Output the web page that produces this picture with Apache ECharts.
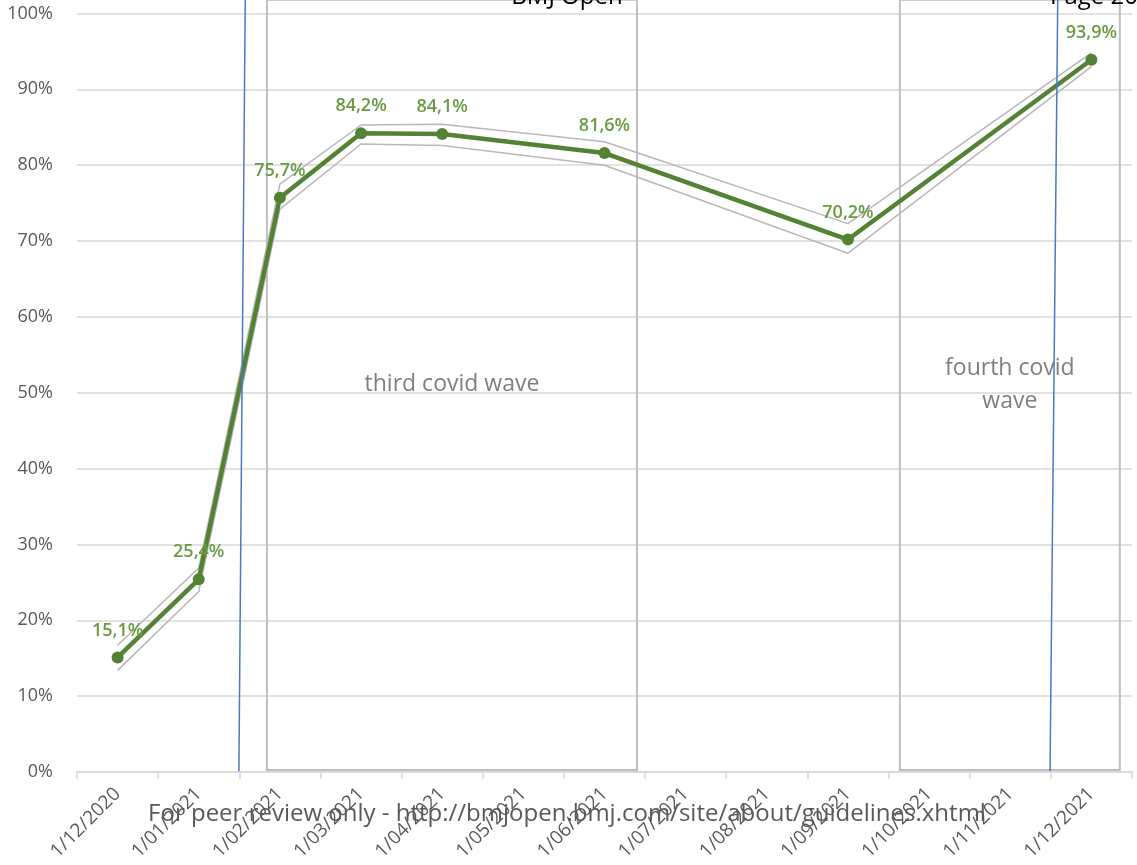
<!DOCTYPE html>
<html>
<head>
<meta charset="utf-8">
<script src="https://cdn.jsdelivr.net/npm/echarts@6/dist/echarts.min.js"></script>
<style>
  html, body { margin: 0; padding: 0; background: #fff; }
  #chart { width: 1137px; height: 865px; }
</style>
</head>
<body>
<div id="chart"></div>
<script>
// categories (first of each month)
const months = ['1/12/2020', '1/01/2021', '1/02/2021', '1/03/2021', '1/04/2021', '1/05/2021', '1/06/2021',
  '1/07/2021', '1/08/2021', '1/09/2021', '1/10/2021', '1/11/2021', '1/12/2021']

// coverage (%) and its upper / lower bounds, null where no measurement
const coverage = [15.1, 25.4, 75.7, 84.2, 84.1, null, 81.6, null, null, 70.2, null, null, 93.9]
const upperBound = [16.7, 26.9, 77.5, 85.3, 85.4, null, 83.1, null, null, 72.3, null, null, 94.8]
const lowerBound = [13.4, 23.8, 74.2, 82.8, 82.6, null, 80.0, null, null, 68.4, null, null, 93.0]

// wave boxes, in month-index units
const waves = [
  { name: 'third covid wave', from: 1.84, to: 6.40 },
  { name: 'fourth covid\nwave', from: 9.64, to: 12.35 },
]
// blue markers (top x, bottom x), month-index units
const blueMarks = [[1.573, 1.495], [11.585, 11.49]]

const FONT = '"Open Sans", "Noto Sans", sans-serif'
const fmtPct = (v) => v.toFixed(1).replace('.', ',') + '%'

const chart = echarts.init(document.getElementById('chart'))

const option = {
  animation: false,
  backgroundColor: '#fff',
  textStyle: { fontFamily: FONT },
  grid: { left: 77, right: 5, top: 13.5, bottom: 93, containLabel: false },
  xAxis: [
    {
      type: 'category',
      data: months,
      boundaryGap: true,
      axisLine: { lineStyle: { color: '#d9d9d9', width: 1.5 } },
      axisTick: { show: true, length: 7, lineStyle: { color: '#d9d9d9', width: 1.5 } },
      axisLabel: { rotate: 45, color: '#595959', fontSize: 19, margin: 19, fontFamily: FONT },
      splitLine: { show: false },
    },
    {
      type: 'value',
      show: false,
      min: -0.5,
      max: 12.5,
      splitLine: { show: false },
    },
  ],
  yAxis: {
    type: 'value',
    min: 0,
    max: 100,
    interval: 10,
    axisLine: { show: false },
    axisTick: { show: false },
    axisLabel: { formatter: '{value}%', color: '#595959', fontSize: 18, margin: 24, fontFamily: FONT },
    splitLine: { lineStyle: { color: '#d9d9d9', width: 1.5 } },
  },
  series: [
    {
      name: 'upper',
      type: 'line',
      data: upperBound,
      connectNulls: true,
      showSymbol: false,
      symbol: 'none',
      lineStyle: { color: '#b8b8b8', width: 1.5 },
      z: 2,
    },
    {
      name: 'lower',
      type: 'line',
      data: lowerBound,
      connectNulls: true,
      showSymbol: false,
      symbol: 'none',
      lineStyle: { color: '#b8b8b8', width: 1.5 },
      z: 2,
    },
    {
      name: 'coverage',
      type: 'line',
      data: coverage,
      connectNulls: true,
      symbol: 'circle',
      symbolSize: 12,
      lineStyle: { color: '#548235', width: 4.5 },
      itemStyle: { color: '#548235' },
      label: {
        show: true,
        position: 'top',
        distance: 12,
        color: '#6b9a45',
        fontSize: 18,
        fontWeight: 600,
        fontFamily: FONT,
        formatter: (p) => fmtPct(p.value),
      },
      z: 3,
    },
  ],
}

chart.setOption(option)

// annotation shapes placed through the axes (month index on hidden axis, % on y)
const px = (x, y) => [
  chart.convertToPixel({ xAxisIndex: 1 }, x),
  chart.convertToPixel({ yAxisIndex: 0 }, y),
]

const graphics = []
waves.forEach((w) => {
  const a = px(w.from, 101.8)
  const b = px(w.to, 0.26)
  graphics.push({
    type: 'rect',
    shape: { x: a[0], y: a[1], width: b[0] - a[0], height: b[1] - a[1] },
    style: { fill: 'none', stroke: '#bfbfbf', lineWidth: 2 },
    z: 1,
  })
  graphics.push({
    type: 'text',
    x: (a[0] + b[0]) / 2,
    y: (a[1] + b[1]) / 2,
    style: {
      text: w.name,
      fill: '#7f7f7f',
      font: '23px ' + FONT,
      lineHeight: 33,
      align: 'center',
      verticalAlign: 'middle',
    },
    z: 1,
  })
})
blueMarks.forEach((m) => {
  const a = px(m[0], 101.8)
  const b = px(m[1], 0.1)
  graphics.push({
    type: 'line',
    shape: { x1: a[0], y1: a[1], x2: b[0], y2: b[1] },
    style: { stroke: '#4a78c8', lineWidth: 1.5 },
    z: 4,
  })
})
graphics.push(
  {
    type: 'text',
    x: 567,
    y: -3,
    style: { text: 'BMJ Open', fill: '#000', font: '24px ' + FONT, align: 'center', verticalAlign: 'middle' },
    z: 10,
  },
  {
    type: 'text',
    x: 1050,
    y: -3,
    style: { text: 'Page 20 of 21', fill: '#000', font: '24px ' + FONT, align: 'left', verticalAlign: 'middle' },
    z: 10,
  },
  {
    type: 'text',
    x: 567,
    y: 814,
    style: {
      text: 'For peer review only - http://bmjopen.bmj.com/site/about/guidelines.xhtml',
      fill: '#595959',
      font: '24px ' + FONT,
      align: 'center',
      verticalAlign: 'middle',
    },
    z: 10,
  }
)
chart.setOption({ graphic: graphics })
</script>
</body>
</html>
